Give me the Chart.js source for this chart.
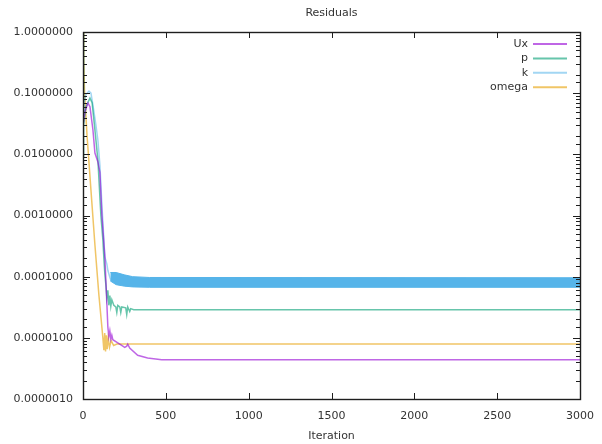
<!DOCTYPE html>
<html>
<head>
<meta charset="utf-8">
<script src="https://cdn.jsdelivr.net/npm/chart.js@4/dist/chart.umd.min.js"></script>
<style>
  html, body { margin: 0; padding: 0; background: #fff; }
  #wrap { width: 602px; height: 444px; }
</style>
</head>
<body>
<div id="wrap"><canvas id="residuals"></canvas></div>
<script>
// residual history
var uxIter = [0, 12, 30, 42, 60, 72, 90, 102, 114, 132, 150, 156, 162, 168, 174, 180, 210, 252, 264, 270, 282, 330, 390, 475, 3000];
var uxVal = [0.03, 0.05, 0.069, 0.06, 0.025, 0.0105, 0.0075, 0.0051, 0.00102, 2.1e-4, 1.5e-5, 1.05e-5, 1.3e-5, 9.5e-6, 1.1e-5, 9.3e-6, 8.3e-6, 7.0e-6, 7.3e-6, 7.9e-6, 6.8e-6, 5.2e-6, 4.7e-6, 4.4e-6, 4.37e-6];

var pIter = [0, 1, 6, 18, 42, 55, 72, 90, 108, 120, 126, 132, 138, 144, 150, 156, 162, 168, 174, 186, 198, 204, 210, 222, 228, 234, 258, 264, 270, 282, 288, 306, 3000];
var pVal = [1.0, 0.009, 0.03, 0.06, 0.083, 0.07, 0.025, 0.008, 0.001, 4e-4, 2.0e-4, 1.1e-4, 7.4e-5, 4.5e-5, 6.0e-5, 3.4e-5, 4.9e-5, 3.3e-5, 4.2e-5, 3.4e-5, 3.2e-5, 2.6e-5, 3.4e-5, 3.2e-5, 2.6e-5, 3.2e-5, 3.1e-5, 2.4e-5, 3.2e-5, 2.7e-5, 3.0e-5, 2.88e-5, 2.88e-5];

var kIter = [0, 6, 18, 36, 48, 60, 78, 90, 102, 114, 126, 132, 144, 150, 162, 170];
var kVal = [0.05, 0.07, 0.095, 0.108, 0.1, 0.064, 0.03, 0.017, 0.0067, 0.0015, 4e-4, 2.1e-4, 1.6e-4, 1.27e-4, 9.8e-5, 8.5e-5];

// k keeps oscillating after ~165 iterations -> drawn as a band
var kBandIter = [165, 200, 250, 300, 400, 3000];
var kBandHigh = [1.17e-4, 1.17e-4, 1.07e-4, 1.0e-4, 9.7e-5, 9.6e-5];
var kBandLow = [8.5e-5, 7.4e-5, 7.0e-5, 6.8e-5, 6.7e-5, 6.7e-5];

var omegaIter = [0, 3, 6, 9, 24, 48, 72, 96, 120, 126, 131, 136, 141, 146, 152, 160, 170, 185, 205, 3000];
var omegaVal = [1.0, 0.6, 0.35, 0.11, 0.021, 0.0026, 3.3e-4, 5.0e-5, 1.0e-5, 6.3e-6, 1.2e-5, 6.0e-6, 1.1e-5, 6.5e-6, 1.0e-5, 7.0e-6, 9.0e-6, 7.5e-6, 7.9e-6, 7.9e-6];

var xTickStep = 500;
var seriesNames = ["Ux", "p", "k", "omega"];
var seriesColors = ["rgba(148,0,211,0.6)", "rgba(0,158,115,0.6)", "rgba(86,180,233,0.55)", "rgba(230,159,0,0.6)"];

function pts(xs, ys) {
  return xs.map(function (x, i) { return { x: x, y: ys[i] }; });
}

function isDecade(v) {
  var l = Math.log10(v);
  return Math.abs(l - Math.round(l)) < 1e-6;
}

// gnuplot style frame, inward ticks on all four sides, key at top right
var gnuFrame = {
  id: 'gnuFrame',
  afterDatasetsDraw: function (chart) {
    var ctx = chart.ctx, a = chart.chartArea, sx = chart.scales.x, sy = chart.scales.y;
    ctx.save();
    ctx.strokeStyle = '#1e1e1e';
    ctx.lineWidth = 1;
    ctx.beginPath();
    sy.ticks.forEach(function (t) {
      var py = Math.round(sy.getPixelForValue(t.value)) + 0.5;
      var len = isDecade(t.value) ? 7 : 4;
      ctx.moveTo(a.left, py); ctx.lineTo(a.left + len, py);
      ctx.moveTo(a.right, py); ctx.lineTo(a.right - len, py);
    });
    sx.ticks.forEach(function (t) {
      var px = Math.round(sx.getPixelForValue(t.value)) + 0.5;
      ctx.moveTo(px, a.bottom); ctx.lineTo(px, a.bottom - 6);
      ctx.moveTo(px, a.top); ctx.lineTo(px, a.top + 6);
    });
    ctx.stroke();
    ctx.lineWidth = 1.4;
    ctx.strokeRect(Math.round(a.left) + 0.5, Math.round(a.top) + 0.5,
      Math.round(a.right - a.left), Math.round(a.bottom - a.top));

    // key
    ctx.font = '11px "DejaVu Sans"';
    ctx.textAlign = 'right';
    ctx.textBaseline = 'middle';
    for (var i = 0; i < seriesNames.length; i++) {
      var ds = chart.data.datasets[i];
      var y = a.top + 12 + i * 14.4;
      ctx.fillStyle = '#333';
      ctx.fillText(ds.label, a.right - 52, y);
      ctx.strokeStyle = ds.borderColor;
      ctx.lineWidth = 2;
      ctx.beginPath();
      ctx.moveTo(a.right - 47, y);
      ctx.lineTo(a.right - 13, y);
      ctx.stroke();
    }
    ctx.restore();
  }
};

Chart.defaults.font.family = '"DejaVu Sans", sans-serif';
Chart.defaults.font.size = 11;
Chart.defaults.color = '#333';
Chart.defaults.animation = false;

var lineOpts = { borderWidth: 1.5, pointRadius: 0, tension: 0, fill: false };

new Chart(document.getElementById('residuals'), {
  type: 'line',
  data: {
    datasets: [
      Object.assign({ label: seriesNames[0], data: pts(uxIter, uxVal), borderColor: seriesColors[0] }, lineOpts),
      Object.assign({ label: seriesNames[1], data: pts(pIter, pVal), borderColor: seriesColors[1] }, lineOpts),
      Object.assign({ label: seriesNames[2], data: pts(kIter, kVal), borderColor: seriesColors[2] }, lineOpts),
      Object.assign({ label: seriesNames[3], data: pts(omegaIter, omegaVal), borderColor: seriesColors[3] }, lineOpts),
      Object.assign({}, lineOpts, { label: 'k band hi', borderWidth: 1, data: pts(kBandIter, kBandHigh), borderColor: '#56b4e9' }),
      Object.assign({}, lineOpts, { label: 'k band lo', borderWidth: 1, data: pts(kBandIter, kBandLow), borderColor: '#56b4e9',
        backgroundColor: '#56b4e9', fill: '-1' })
    ]
  },
  options: {
    responsive: true,
    maintainAspectRatio: false,
    layout: { padding: { left: 0, right: 22, top: 0, bottom: 0 } },
    plugins: {
      legend: { display: false },
      tooltip: { enabled: false }
    },
    scales: {
      x: {
        type: 'linear',
        position: 'bottom',
        min: 0,
        max: 3000,
        grid: { display: false },
        border: { display: false },
        ticks: { stepSize: xTickStep, padding: 3, maxRotation: 0,
          callback: function (v) { return String(v); } },
        title: { display: true, text: 'Iteration', padding: { top: 0, bottom: 1 } },
        afterFit: function (s) { s.height = 45; }
      },
      xTop: {
        type: 'linear',
        position: 'top',
        min: 0,
        max: 3000,
        grid: { display: false },
        border: { display: false },
        ticks: { display: false },
        title: { display: true, text: 'Residuals', padding: { top: 7, bottom: 0 } },
        afterFit: function (s) { s.height = 32; }
      },
      y: {
        type: 'logarithmic',
        min: 1e-6,
        max: 1,
        grid: { display: false },
        border: { display: false },
        ticks: {
          autoSkip: false,
          padding: 2,
          callback: function (v) { return isDecade(v) ? Number(v).toFixed(7) : ''; }
        },
        afterFit: function (s) { s.width = 83; }
      }
    }
  },
  plugins: [gnuFrame]
});
</script>
</body>
</html>
